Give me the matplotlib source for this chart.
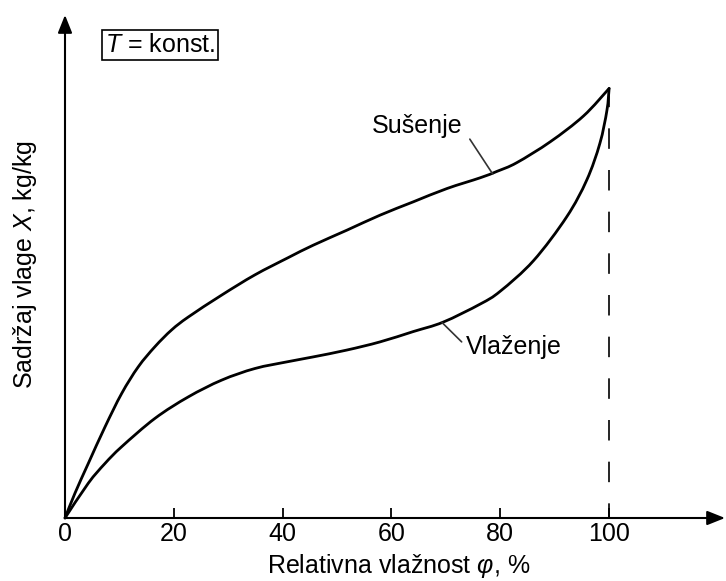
import matplotlib
matplotlib.use("Agg")
import matplotlib.pyplot as plt
from matplotlib.path import Path
from matplotlib.patches import PathPatch

plt.rcParams['font.family'] = ['Liberation Sans', 'DejaVu Sans']
plt.rcParams['mathtext.fontset'] = 'custom'
plt.rcParams['mathtext.rm'] = 'Liberation Sans'
plt.rcParams['mathtext.it'] = 'Liberation Sans:italic'

# Data (relative humidity %, moisture content in arbitrary units, peak = 100)
phi_drying = [0, 1.84, 4.28, 7.35, 10.42, 13.47, 16.54, 19.61, 22.67, 28.8, 34.9,
              41.0, 45.6, 51.8, 57.9, 64.0, 70.2, 76.3, 79.4, 83.0, 89.2, 95.3, 100]
x_drying = [0, 5.8, 12.7, 21.2, 29.0, 35.2, 39.9, 43.8, 46.8, 51.9, 56.6,
            60.6, 63.5, 67.0, 70.5, 73.6, 76.7, 79.2, 80.7, 82.7, 87.6, 93.6, 100]

phi_wetting = [0, 4.28, 7.35, 10.42, 16.54, 22.67, 28.8, 34.9, 41.0, 45.6, 51.8,
               57.9, 64.0, 69.5, 76.3, 80.0, 86.1, 92.2, 95.9, 98.3, 99.6, 100]
x_wetting = [0, 8.1, 12.7, 16.6, 23.2, 28.2, 32.1, 34.8, 36.4, 37.5, 39.1,
             41.0, 43.4, 45.6, 49.8, 52.8, 59.9, 70.1, 78.7, 87.2, 94.9, 100]

xticks = [0, 20, 40, 60, 80, 100]
xlabel = 'Relativna vlažnost $\\varphi$, %'
ylabel = 'Sadržaj vlage $X$, kg/kg'
label_drying = 'Sušenje'
label_wetting = 'Vlaženje'
box_text = '$T$ = konst.'


def smooth_path(xs, ys):
    """Catmull-Rom through the given points, drawn as cubic Bezier segments."""
    pts = list(zip(xs, ys))
    n = len(pts)
    verts = [pts[0]]
    codes = [Path.MOVETO]
    for i in range(n - 1):
        p0 = pts[i - 1] if i > 0 else pts[i]
        p1 = pts[i]
        p2 = pts[i + 1]
        p3 = pts[i + 2] if i + 2 < n else pts[i + 1]
        c1 = (p1[0] + (p2[0] - p0[0]) / 6.0, p1[1] + (p2[1] - p0[1]) / 6.0)
        c2 = (p2[0] - (p3[0] - p1[0]) / 6.0, p2[1] - (p3[1] - p1[1]) / 6.0)
        verts += [c1, c2, p2]
        codes += [Path.CURVE4] * 3
    return Path(verts, codes)


W, H = 726, 581
fig = plt.figure(figsize=(W / 100, H / 100), dpi=100)
ax = fig.add_axes([65 / W, 63 / H, 660 / W, 503 / H])
XMAX, YMAX = 121.3, 117.1
ax.set_xlim(0, XMAX)
ax.set_ylim(0, YMAX)
for s in ax.spines.values():
    s.set_visible(False)

# axes with arrows
arrow = dict(arrowstyle='-|>,head_length=0.4,head_width=0.16', color='black',
             lw=1.5, shrinkA=0, shrinkB=0, mutation_scale=27)
ax.annotate('', xy=(XMAX, 0), xytext=(0, 0), arrowprops=arrow, annotation_clip=False)
ax.annotate('', xy=(0, YMAX), xytext=(0, 0), arrowprops=arrow, annotation_clip=False)

ax.set_xticks(xticks)
ax.set_xticklabels([str(t) for t in xticks])
ax.set_yticks([])
ax.tick_params(axis='x', direction='in', length=7, width=1.3, labelsize=18, pad=3,
               color='black')

# curves (smooth)
for xs, ys in ((phi_drying, x_drying), (phi_wetting, x_wetting)):
    ax.add_patch(PathPatch(smooth_path(xs, ys), fill=False, edgecolor='black',
                           lw=2.0, capstyle='round', joinstyle='round', clip_on=False))

# dashed line at 100 %
ax.plot([100, 100], [0, 100], color='black', lw=1.2,
        linestyle=(3.5, (12.3, 12.7)))

# labels with leader lines
ax.annotate('', xy=(78.6, 80.1), xytext=(74.4, 88.2),
            arrowprops=dict(arrowstyle='-', color='#333333', lw=1.2, shrinkA=0, shrinkB=0))
ax.text(73.0, 89.7, label_drying, ha='right', va='baseline', fontsize=18)
ax.annotate('', xy=(69.3, 45.5), xytext=(72.9, 41.0),
            arrowprops=dict(arrowstyle='-', color='#333333', lw=1.2, shrinkA=0, shrinkB=0))
ax.text(73.7, 38.2, label_wetting, ha='left', va='baseline', fontsize=18)

# box
ax.text(17.5, 110.1, box_text, ha='center', va='center', fontsize=18,
        bbox=dict(boxstyle='square,pad=0.12', fc='white', ec='black', lw=1.2))

# axis labels
fig.text(399 / W, 1 - 566 / H, xlabel, ha='center', va='center', fontsize=18)
fig.text(25 / W, 1 - 264 / H, ylabel, ha='center', va='center', fontsize=18, rotation=90)

fig.savefig('out.png', dpi=100)
